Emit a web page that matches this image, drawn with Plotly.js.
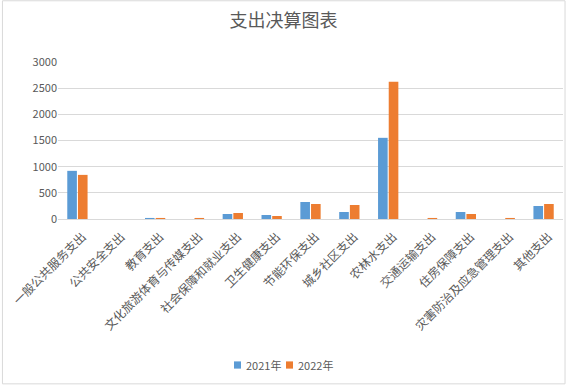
<!DOCTYPE html>
<html><head><meta charset="utf-8">
<script src="https://cdn.plot.ly/plotly-3.0.1.min.js"></script>
<style>html,body{margin:0;padding:0;background:#fff}#chart{width:567px;height:385px}</style>
</head><body><div id="chart"></div>
<script>
const categories = ["一般公共服务支出","公共安全支出","教育支出","文化旅游体育与传媒支出","社会保障和就业支出","卫生健康支出","节能环保支出","城乡社区支出","农林水支出","交通运输支出","住房保障支出","灾害防治及应急管理支出","其他支出"];
const seriesNames = ["2021年", "2022年"];
const values2021 = [920, 0, 20, 0, 96, 77, 325, 134, 1551, 0, 134, 0, 249];
const values2022 = [843, 0, 20, 20, 115, 57, 287, 268, 2624, 20, 96, 20, 287];
const yTicks = [0, 500, 1000, 1500, 2000, 2500, 3000];
const colors = ['#5B9BD5', '#ED7D31'];

const font = "'Noto Sans CJK SC', 'Noto Sans', sans-serif";
const data = [
  {type:'bar', name:seriesNames[0], x:categories, y:values2021, marker:{color:colors[0]}},
  {type:'bar', name:seriesNames[1], x:categories, y:values2022, marker:{color:colors[1]}}
];

// manual compact legend (paper coords)
const legX = [0.3485, 0.4515];
const legY = -0.93;
const shapes = [{type:'rect', xref:'paper', yref:'paper', x0:-0.11, x1:1.004, y0:-1.05, y1:1.39, line:{color:'#D9D9D9', width:1}}];
const annotations = [];
seriesNames.forEach((n, i) => {
  shapes.push({type:'rect', xref:'paper', yref:'paper', x0:legX[i], x1:legX[i]+0.0139, y0:legY+0.023, y1:legY-0.023, fillcolor:colors[i], line:{width:0}});
  annotations.push({xref:'paper', yref:'paper', x:legX[i]+0.019, y:legY, xanchor:'left', yanchor:'middle', showarrow:false, text:n, font:{family:font, size:11, color:'#595959'}});
});

const layout = {
  width:567, height:385,
  margin:{l:58, r:4, t:62, b:166},
  paper_bgcolor:'#fff', plot_bgcolor:'#fff',
  title:{text:'支出决算图表', x:0.5, xanchor:'center', y:0.945, yanchor:'middle', font:{family:font, size:18, color:'#595959'}},
  barmode:'group', bargap:0.45, bargroupgap:0.1,
  xaxis:{tickangle:-45, tickfont:{family:font, size:12, color:'#595959'}, showline:true, linecolor:'#D9D9D9', linewidth:1, ticks:'', automargin:false, ticklabelshift:5, ticklabelstandoff:5},
  yaxis:{range:[0,3000], tickvals:yTicks, tickfont:{family:font, size:11, color:'#595959'}, gridcolor:'#D9D9D9', zeroline:true, zerolinecolor:'#D9D9D9', showline:false, ticks:'', automargin:false},
  showlegend:false,
  shapes:shapes,
  annotations:annotations
};
Plotly.newPlot('chart', data, layout, {displayModeBar:false, staticPlot:true});
</script></body></html>
